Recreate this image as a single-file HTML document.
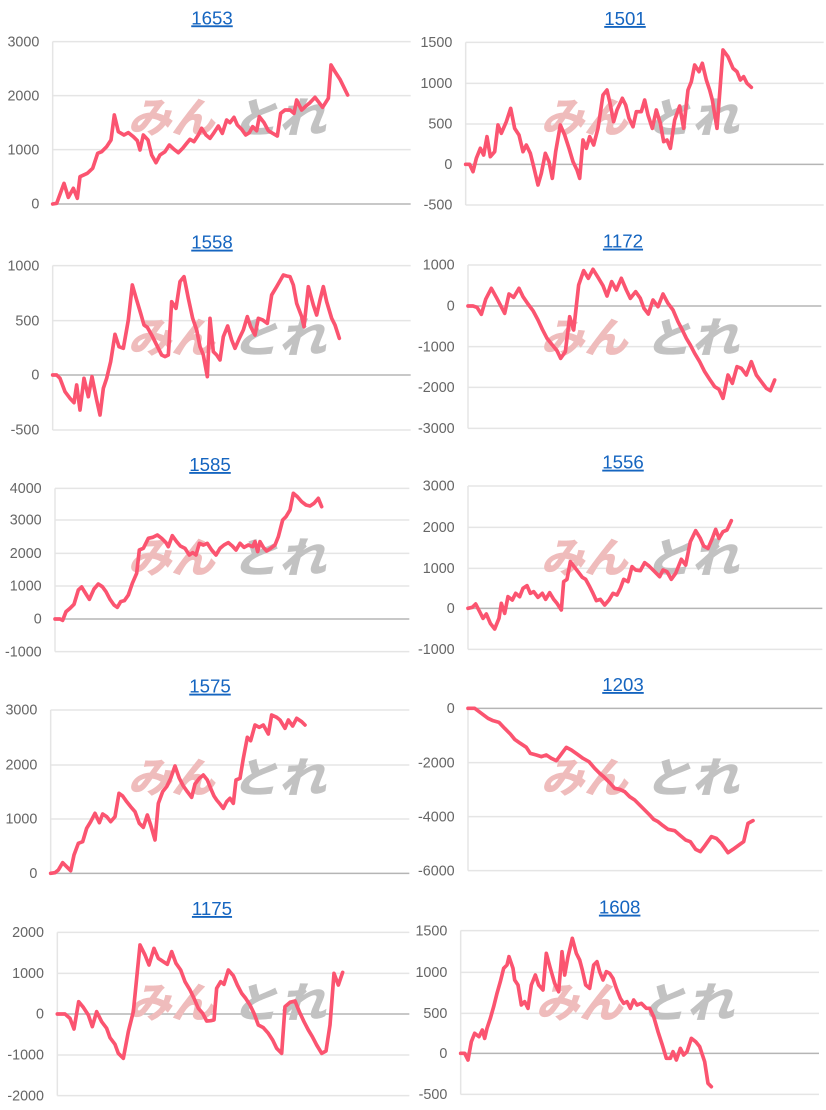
<!DOCTYPE html>
<html><head><meta charset="utf-8"><style>
html,body{margin:0;padding:0;background:#fff;width:826px;height:1110px;overflow:hidden}
svg{display:block}
.g{stroke:#e5e5e5;stroke-width:4.5}
.z{stroke:#b5b5b5;stroke-width:4.5}
.l{font-family:"Liberation Sans",Arial,sans-serif;font-size:43px;fill:#666;text-anchor:end}
.t{font-family:"Liberation Sans",Arial,sans-serif;font-size:56px;fill:#1565c0;text-anchor:middle;text-decoration:underline}
.s{fill:none;stroke:#fb5470;stroke-width:11;stroke-linejoin:round;stroke-linecap:round}
.wp{font-family:"Noto Sans CJK JP",sans-serif;font-weight:900;font-size:125px;fill:#efbcbc}
.wg{font-family:"Noto Sans CJK JP",sans-serif;font-weight:900;font-size:125px;fill:#c2c2c2}
</style></head><body>
<svg width="826" height="1110" viewBox="0 0 826 1110" xmlns="http://www.w3.org/2000/svg">
<defs>
<g id="wm"><text class="wp" x="490" y="398" transform="skewX(-15)" textLength="260" lengthAdjust="spacingAndGlyphs">みん</text><text class="wg" x="800" y="398" transform="skewX(-15)" textLength="285" lengthAdjust="spacingAndGlyphs">とれ</text></g>
</defs>

<!-- P1 1653 -->
<g transform="translate(0,0) scale(0.33333)">
<line class="g" x1="158" y1="125" x2="158" y2="612"/>
<line class="g" x1="158" y1="125" x2="1232" y2="125"/><line class="g" x1="158" y1="287" x2="1232" y2="287"/><line class="g" x1="158" y1="449" x2="1232" y2="449"/><line class="z" x1="158" y1="612" x2="1232" y2="612"/>
<text class="l" x="118" y="139">3000</text><text class="l" x="118" y="301">2000</text><text class="l" x="118" y="463">1000</text><text class="l" x="118" y="626">0</text>
<text class="t" x="636" y="73">1653</text>
<use href="#wm"/>
<polyline class="s" points="158,612 170,610 192,550 205,592 220,565 232,595 240,530 262,520 278,505 293,460 305,455 320,440 333,420 343,345 355,395 372,405 385,398 400,410 412,422 420,450 430,405 444,420 455,465 468,488 480,465 495,455 508,435 522,448 535,458 548,445 560,430 570,418 582,425 595,405 605,385 618,405 630,415 642,398 655,378 667,400 680,360 690,368 702,352 712,375 725,388 737,405 748,398 758,380 770,392 778,350 792,368 805,392 818,400 832,408 842,340 855,330 870,330 882,340 890,300 905,330 918,318 930,308 945,292 955,305 968,322 985,295 993,195 1005,215 1020,238 1043,285"/>
</g>

<!-- P2 1501 -->
<g transform="translate(413,0) scale(0.33333)">
<line class="g" x1="158" y1="127" x2="158" y2="615"/>
<line class="g" x1="158" y1="127" x2="1232" y2="127"/><line class="g" x1="158" y1="250" x2="1232" y2="250"/><line class="g" x1="158" y1="372" x2="1232" y2="372"/><line class="z" x1="158" y1="493" x2="1232" y2="493"/><line class="g" x1="158" y1="615" x2="1232" y2="615"/>
<text class="l" x="118" y="141">1500</text><text class="l" x="118" y="264">1000</text><text class="l" x="118" y="386">500</text><text class="l" x="118" y="507">0</text><text class="l" x="118" y="629">-500</text>
<text class="t" x="636" y="75">1501</text>
<use href="#wm"/>
<polyline class="s" points="158,493 170,493 180,515 190,475 202,445 212,465 222,410 232,470 245,455 255,375 265,400 280,365 293,325 305,385 318,405 330,455 340,435 352,460 362,500 375,555 385,520 397,460 408,485 418,535 428,455 442,375 455,405 468,445 480,485 492,510 500,535 510,420 520,445 530,410 542,435 555,385 570,285 582,270 590,305 602,365 612,330 628,295 638,315 648,355 660,380 670,335 685,335 695,300 705,345 718,385 730,330 742,370 752,425 762,420 772,445 785,360 800,318 812,385 825,270 835,245 845,195 858,215 868,190 880,240 890,270 898,300 912,385 930,150 945,170 960,205 972,215 982,240 992,230 1002,250 1015,262"/>
</g>

<!-- P3 1558 -->
<g transform="translate(0,220) scale(0.33333)">
<line class="g" x1="158" y1="137" x2="158" y2="630"/>
<line class="g" x1="158" y1="137" x2="1232" y2="137"/><line class="g" x1="158" y1="302" x2="1232" y2="302"/><line class="z" x1="158" y1="465" x2="1232" y2="465"/><line class="g" x1="158" y1="630" x2="1232" y2="630"/>
<text class="l" x="118" y="151">1000</text><text class="l" x="118" y="316">500</text><text class="l" x="118" y="479">0</text><text class="l" x="118" y="644">-500</text>
<text class="t" x="636" y="86">1558</text>
<use href="#wm"/>
<polyline class="s" points="158,465 170,465 180,475 195,515 210,535 222,548 230,495 240,570 252,475 265,530 276,470 290,540 300,585 310,505 320,475 332,425 345,343 357,380 370,385 385,300 397,195 410,240 422,280 432,315 442,322 455,345 470,375 485,405 495,410 505,405 515,245 528,265 540,185 552,170 565,235 578,295 590,330 600,380 610,405 622,470 630,295 640,395 650,405 660,420 670,350 683,318 695,360 705,385 718,355 730,330 742,290 752,320 765,345 775,295 788,300 802,310 815,225 830,200 850,165 860,168 870,170 880,195 890,250 905,290 912,320 925,200 940,255 950,285 960,240 970,200 980,245 995,295 1005,315 1018,355"/>
</g>

<!-- P4 1172 -->
<g transform="translate(413,220) scale(0.33333)">
<line class="g" x1="165" y1="135" x2="165" y2="625"/>
<line class="g" x1="165" y1="135" x2="1225" y2="135"/><line class="z" x1="165" y1="258" x2="1225" y2="258"/><line class="g" x1="165" y1="380" x2="1225" y2="380"/><line class="g" x1="165" y1="502" x2="1225" y2="502"/><line class="g" x1="165" y1="625" x2="1225" y2="625"/>
<text class="l" x="125" y="149">1000</text><text class="l" x="125" y="272">0</text><text class="l" x="125" y="394">-1000</text><text class="l" x="125" y="516">-2000</text><text class="l" x="125" y="639">-3000</text>
<text class="t" x="630" y="83">1172</text>
<use href="#wm"/>
<polyline class="s" points="165,258 180,258 192,262 205,283 218,238 235,205 250,232 262,255 275,280 288,222 302,232 318,205 330,230 345,252 360,272 375,300 388,328 402,355 418,375 432,392 443,415 457,395 470,290 482,330 497,195 512,152 526,175 540,148 555,172 570,197 582,228 596,185 610,210 625,175 640,210 652,235 668,215 682,235 693,265 706,282 720,240 735,260 750,222 765,250 780,270 795,305 808,330 820,355 832,375 845,400 860,425 875,455 890,478 905,500 918,508 930,535 945,465 958,490 972,440 985,445 1000,465 1015,425 1030,465 1045,485 1060,505 1072,512 1085,480"/>
</g>

<!-- P5 1585 -->
<g transform="translate(0,440) scale(0.33333)">
<line class="g" x1="165" y1="145" x2="165" y2="635"/>
<line class="g" x1="165" y1="145" x2="1228" y2="145"/><line class="g" x1="165" y1="240" x2="1228" y2="240"/><line class="g" x1="165" y1="340" x2="1228" y2="340"/><line class="g" x1="165" y1="438" x2="1228" y2="438"/><line class="z" x1="165" y1="537" x2="1228" y2="537"/><line class="g" x1="165" y1="635" x2="1228" y2="635"/>
<text class="l" x="125" y="159">4000</text><text class="l" x="125" y="254">3000</text><text class="l" x="125" y="354">2000</text><text class="l" x="125" y="452">1000</text><text class="l" x="125" y="551">0</text><text class="l" x="125" y="649">-1000</text>
<text class="t" x="630" y="93">1585</text>
<use href="#wm"/>
<polyline class="s" points="165,537 180,537 188,541 198,515 210,505 222,493 235,450 245,441 258,462 268,478 282,447 295,432 307,440 318,455 330,478 342,495 352,502 362,485 373,482 385,465 397,430 410,400 418,330 430,325 445,295 458,292 472,285 485,295 498,308 505,320 517,287 530,305 541,318 555,325 568,345 578,338 588,345 598,310 610,315 622,310 635,330 648,345 660,325 672,315 685,308 697,318 708,330 720,310 732,322 745,315 758,320 765,305 773,335 780,305 790,322 800,333 812,325 825,315 835,290 848,240 858,230 870,210 880,160 892,170 905,185 918,195 930,198 942,190 955,175 965,200"/>
</g>

<!-- P6 1556 -->
<g transform="translate(413,440) scale(0.33333)">
<line class="g" x1="165" y1="138" x2="165" y2="628"/>
<line class="g" x1="165" y1="138" x2="1228" y2="138"/><line class="g" x1="165" y1="262" x2="1228" y2="262"/><line class="g" x1="165" y1="385" x2="1228" y2="385"/><line class="z" x1="165" y1="505" x2="1228" y2="505"/><line class="g" x1="165" y1="628" x2="1228" y2="628"/>
<text class="l" x="125" y="152">3000</text><text class="l" x="125" y="276">2000</text><text class="l" x="125" y="399">1000</text><text class="l" x="125" y="519">0</text><text class="l" x="125" y="642">-1000</text>
<text class="t" x="630" y="86">1556</text>
<use href="#wm"/>
<polyline class="s" points="165,505 178,502 188,492 200,515 210,535 220,522 232,550 245,567 258,535 265,490 275,520 285,470 298,480 308,460 320,470 330,445 342,437 352,460 362,455 375,472 388,460 398,478 410,458 422,478 432,490 445,510 452,425 462,418 472,365 485,382 495,395 508,412 518,418 530,440 540,460 550,482 562,478 575,495 588,480 600,460 612,465 622,445 632,418 645,425 657,380 668,390 682,392 695,368 708,378 720,390 740,410 750,390 762,395 775,418 788,400 805,358 818,375 832,305 848,272 862,295 872,318 885,325 898,295 908,268 918,295 930,275 942,270 955,242"/>
</g>

<!-- P7 1575 -->
<g transform="translate(0,660) scale(0.33333)">
<line class="g" x1="152" y1="150" x2="152" y2="640"/>
<line class="g" x1="152" y1="150" x2="1228" y2="150"/><line class="g" x1="152" y1="315" x2="1228" y2="315"/><line class="g" x1="152" y1="477" x2="1228" y2="477"/><line class="z" x1="152" y1="640" x2="1228" y2="640"/>
<text class="l" x="112" y="164">3000</text><text class="l" x="112" y="329">2000</text><text class="l" x="112" y="491">1000</text><text class="l" x="112" y="654">0</text>
<text class="t" x="630" y="98">1575</text>
<use href="#wm"/>
<polyline class="s" points="152,640 165,638 175,630 188,608 200,620 212,632 222,585 235,550 248,545 260,505 272,485 285,460 298,488 308,462 320,470 332,485 345,470 357,400 368,408 380,425 392,440 405,455 418,490 430,502 442,465 452,495 465,540 475,430 488,395 500,380 512,355 525,318 538,355 550,378 562,395 575,412 585,372 598,355 610,345 622,360 632,385 642,408 650,420 660,432 670,445 680,425 690,415 700,430 708,360 720,355 730,295 742,232 752,242 765,195 778,202 790,195 805,222 815,165 830,172 840,180 855,205 865,180 878,198 890,175 905,185 915,195"/>
</g>

<!-- P8 1203 -->
<g transform="translate(413,660) scale(0.33333)">
<line class="g" x1="165" y1="145" x2="165" y2="632"/>
<line class="z" x1="165" y1="145" x2="1228" y2="145"/><line class="g" x1="165" y1="308" x2="1228" y2="308"/><line class="g" x1="165" y1="470" x2="1228" y2="470"/><line class="g" x1="165" y1="632" x2="1228" y2="632"/>
<text class="l" x="125" y="159">0</text><text class="l" x="125" y="322">-2000</text><text class="l" x="125" y="484">-4000</text><text class="l" x="125" y="646">-6000</text>
<text class="t" x="630" y="93">1203</text>
<use href="#wm"/>
<polyline class="s" points="165,145 185,145 205,160 225,175 240,182 258,187 275,205 292,222 305,238 322,250 340,262 352,280 370,285 385,290 400,285 415,295 430,302 445,282 460,262 475,270 492,282 510,295 528,305 545,325 560,340 572,350 590,368 605,385 620,388 635,395 650,410 665,420 680,435 695,450 710,465 722,478 735,485 750,497 765,508 785,512 800,525 818,540 832,545 848,568 862,575 875,558 895,530 910,535 925,550 945,578 960,568 978,555 992,545 1005,490 1020,482"/>
</g>

<!-- P9 1175 -->
<g transform="translate(0,885) scale(0.33333)">
<line class="g" x1="172" y1="142" x2="172" y2="632"/>
<line class="g" x1="172" y1="142" x2="1228" y2="142"/><line class="g" x1="172" y1="265" x2="1228" y2="265"/><line class="z" x1="172" y1="387" x2="1228" y2="387"/><line class="g" x1="172" y1="510" x2="1228" y2="510"/><line class="g" x1="172" y1="632" x2="1228" y2="632"/>
<text class="l" x="132" y="156">2000</text><text class="l" x="132" y="279">1000</text><text class="l" x="132" y="401">0</text><text class="l" x="132" y="524">-1000</text><text class="l" x="132" y="646">-2000</text>
<text class="t" x="636" y="90">1175</text>
<use href="#wm"/>
<polyline class="s" points="172,387 195,387 210,400 222,432 236,350 250,367 265,390 277,425 290,380 305,410 320,430 330,458 345,478 355,505 370,520 385,440 400,380 420,180 435,210 447,240 462,190 475,220 490,230 502,238 515,200 528,235 542,255 555,290 570,315 582,340 595,370 608,385 620,408 632,407 642,405 650,310 662,290 672,298 685,255 700,272 712,300 725,325 737,340 750,360 762,385 775,420 790,428 805,445 818,465 830,490 845,505 855,365 870,352 885,348 898,380 912,410 925,435 937,455 950,480 965,505 978,498 990,420 1002,265 1015,300 1028,262"/>
</g>

<!-- P10 1608 -->
<g transform="translate(413,885) scale(0.33333)">
<line class="g" x1="143" y1="137" x2="143" y2="628"/>
<line class="g" x1="143" y1="137" x2="1218" y2="137"/><line class="g" x1="143" y1="262" x2="1218" y2="262"/><line class="g" x1="143" y1="385" x2="1218" y2="385"/><line class="z" x1="143" y1="505" x2="1218" y2="505"/><line class="g" x1="143" y1="628" x2="1218" y2="628"/>
<text class="l" x="103" y="151">1500</text><text class="l" x="103" y="276">1000</text><text class="l" x="103" y="399">500</text><text class="l" x="103" y="519">0</text><text class="l" x="103" y="642">-500</text>
<text class="t" x="620" y="86">1608</text>
<g transform="translate(-15,0)"><use href="#wm"/></g>
<polyline class="s" points="143,505 155,505 165,525 175,470 185,445 198,455 208,435 215,460 222,430 232,400 242,365 252,325 262,290 272,250 282,240 288,215 300,250 305,285 315,300 325,360 335,350 345,370 355,300 367,270 377,300 390,315 400,205 412,250 425,295 437,320 447,200 455,270 465,215 478,160 490,205 500,225 508,255 518,300 530,310 542,240 552,230 560,260 570,285 580,260 590,265 600,280 610,310 622,340 632,355 642,350 652,370 662,345 672,360 685,355 700,370 710,370 722,395 735,440 748,480 760,520 772,520 780,500 790,525 802,490 812,510 822,500 835,460 848,470 860,485 875,530 885,595 895,605"/>
</g>
</svg>
</body></html>
